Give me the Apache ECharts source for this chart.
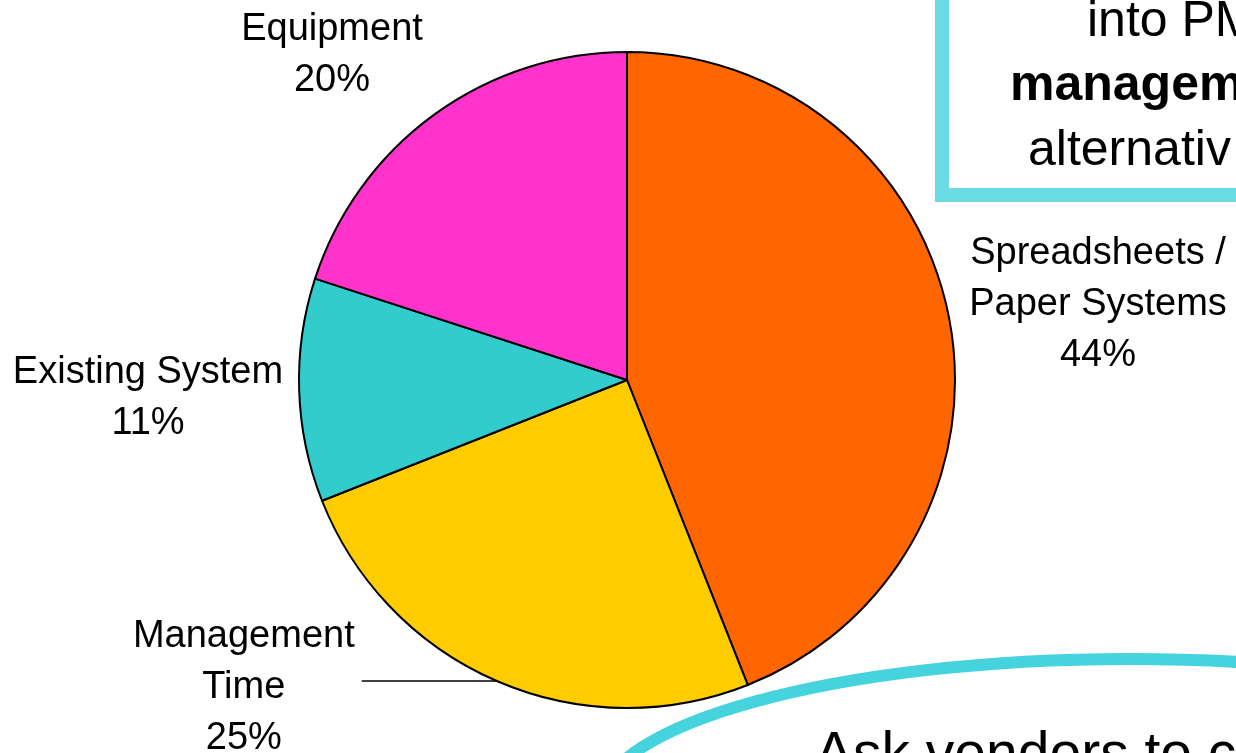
<!DOCTYPE html>
<html>
<head>
<meta charset="utf-8">
<script src="https://cdn.jsdelivr.net/npm/echarts@6/dist/echarts.min.js"></script>
<style>
  html, body { margin: 0; padding: 0; background: #ffffff; }
  #chart { width: 1236px; height: 753px; }
</style>
</head>
<body>
<div id="chart"></div>
<script>
// ---- data ----
const categories = ['Spreadsheets /\nPaper Systems', 'Management\nTime', 'Existing System', 'Equipment'];
const shares = [44, 25, 11, 20];
const sliceColors = ['#FF6600', '#FFCC00', '#33CCCC', '#FF33CC'];
const boxLines = ['into PM', 'managem', 'alternativ'];
const calloutText = 'Ask vendors to c';

// ---- layout (positions only) ----
const FONT = "'Liberation Sans', Arial, Helvetica, sans-serif";
const labelCenters = [[1098, 305], null, [148, 398], [332, 55]];

const chart = echarts.init(document.getElementById('chart'), null, { renderer: 'canvas' });

const pieData = categories.map((name, i) => ({
  name: name,
  value: shares[i],
  itemStyle: { color: sliceColors[i] },
  labelLine: i === 1
    ? { show: true, length: 0, length2: 135, lineStyle: { color: '#000', width: 1.5 } }
    : { show: false }
}));

const option = {
  backgroundColor: '#ffffff',
  animation: false,
  graphic: [
    {
      type: 'rect', z: 1,
      shape: { x: 942, y: -60, width: 600, height: 255 },
      style: { fill: 'none', stroke: '#6ADAE3', lineWidth: 14 }
    },
    {
      type: 'text', z: 2, x: 1087, y: 22,
      style: { text: boxLines[0], font: '50px ' + FONT, fill: '#000', align: 'left', verticalAlign: 'middle' }
    },
    {
      type: 'text', z: 2, x: 1010, y: 86,
      style: { text: boxLines[1], font: 'bold 50px ' + FONT, fill: '#000', align: 'left', verticalAlign: 'middle' }
    },
    {
      type: 'text', z: 2, x: 1028, y: 151,
      style: { text: boxLines[2], font: '50px ' + FONT, fill: '#000', align: 'left', verticalAlign: 'middle' }
    },
    {
      type: 'ellipse', z: 1,
      shape: { cx: 1130, cy: 804, rx: 530, ry: 145 },
      style: { fill: 'none', stroke: '#45D3DE', lineWidth: 12 }
    },
    {
      type: 'text', z: 2, x: 815, y: 756,
      style: { text: calloutText, font: '57px ' + FONT, fill: '#000', align: 'left', verticalAlign: 'middle' }
    }
  ],
  series: [{
    type: 'pie',
    center: [627, 380],
    radius: 328,
    startAngle: 90,
    clockwise: true,
    avoidLabelOverlap: false,
    itemStyle: { borderColor: '#000', borderWidth: 2 },
    emphasis: { disabled: true },
    label: {
      show: true,
      position: 'outside',
      alignTo: 'none',
      distanceToLabelLine: 7,
      formatter: function (p) {
        const lines = p.name.split('\n').concat([Math.round(p.percent) + '%']);
        return lines.map(l => '{c|' + l + '}').join('\n');
      },
      rich: {
        c: { fontSize: 38, lineHeight: 51, align: 'center', color: '#000', fontFamily: FONT }
      }
    },
    labelLayout: function (params) {
      const pos = labelCenters[params.dataIndex];
      if (!pos) return { dy: 6 };
      return { x: pos[0], y: pos[1], align: 'center', verticalAlign: 'middle' };
    },
    data: pieData
  }]
};

chart.setOption(option);
</script>
</body>
</html>
